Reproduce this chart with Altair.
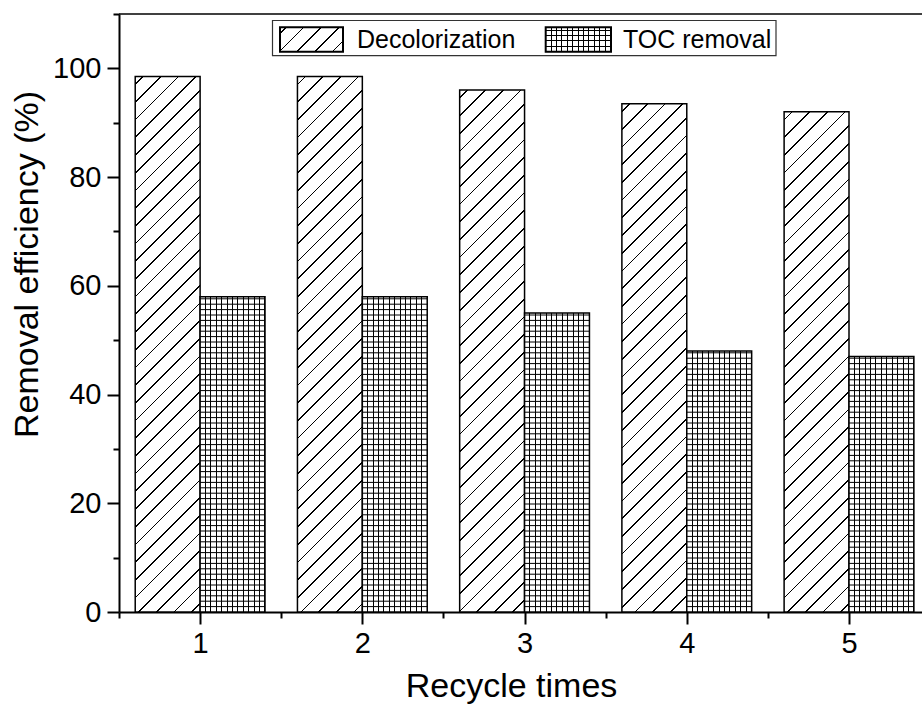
import altair as alt
import pandas as pd

# Recycling test results
recycle = [1, 2, 3, 4, 5]
decolorization = [98.5, 98.5, 96.0, 93.5, 92.0]
toc_removal = [58.0, 58.0, 55.0, 48.0, 47.0]
series = ["Decolorization", "TOC removal"]

# Plot geometry (pixels) and scale domains
W, H = 803, 598
X_MIN, X_MAX = 0.5, 5.45
Y_MAX = 110
BAR = 0.4  # bar width in x units
PX_X = W / (X_MAX - X_MIN)
PX_Y = H / Y_MAX
GRID_PX = 5.4  # cross-hatch pitch in pixels
GRID_STEP = GRID_PX / PX_Y  # same pitch in y units

FONT = "Liberation Sans"
INK = "#000000"
CLEAR = "rgba(0,0,0,0)"

df = pd.DataFrame({"recycle": recycle, "decol": decolorization, "toc": toc_removal})


def band_stops(positions, length, lw, on, off):
    """Hard-edged gradient stops: thin bands of colour `on` centred on positions."""
    stops = []
    for c in positions:
        a = max(0.0, (c - lw / 2) / length)
        b = min(1.0, (c + lw / 2) / length)
        if b <= 0 or a >= 1:
            continue
        stops += [
            {"offset": round(a, 5), "color": off},
            {"offset": round(a, 5), "color": on},
            {"offset": round(b, 5), "color": on},
            {"offset": round(b, 5), "color": off},
        ]
    return stops


def diagonal_fill(w, h, spacing=17.7, lw=1.7, phase=8.0):
    """'/' hatching at 45 degrees for a w x h pixel box (bounding-box gradient)."""
    L = w + h
    k = L / (w * w + h * h)
    pos = []
    c = phase
    while c < L + lw:
        pos.append(c)
        c += spacing
    return {
        "gradient": "linear",
        "x1": 0, "y1": 0, "x2": round(w * k, 6), "y2": round(h * k, 6),
        "stops": band_stops(pos, L, lw, INK, "#ffffff"),
    }


def vertical_lines_fill(w, spacing=GRID_PX, lw=1.0):
    pos = []
    c = spacing
    while c < w:
        pos.append(c)
        c += spacing
    return {
        "gradient": "linear", "x1": 0, "y1": 0, "x2": 1, "y2": 0,
        "stops": band_stops(pos, w, lw, INK, "#ffffff"),
    }


def horizontal_lines_fill(h, spacing=GRID_PX, lw=1.0):
    pos = []
    c = h - spacing
    while c > 0:
        pos.append(c)
        c -= spacing
    pos.sort()
    return {
        "gradient": "linear", "x1": 0, "y1": 0, "x2": 0, "y2": 1,
        "stops": band_stops(pos, h, lw, INK, CLEAR),
    }


major_y = "datum.value % 20 === 0"
major_x = "datum.value % 1 === 0"

x_scale = alt.Scale(domain=[X_MIN, X_MAX], nice=False, zero=False)
y_scale = alt.Scale(domain=[0, Y_MAX], nice=False)

x_axis = alt.Axis(
    values=[0.5, 1, 1.5, 2, 2.5, 3, 3.5, 4, 4.5, 5],
    labelExpr=f"{major_x} ? format(datum.value, 'd') : ''",
    tickSize={"condition": {"test": major_x, "value": 12}, "value": 6},
    tickWidth=2, tickColor=INK, domainWidth=2, domainColor=INK,
    labelFont=FONT, labelFontSize=29, labelColor=INK, labelPadding=5,
    labelOverlap=False, grid=False,
    title="Recycle times", titleFont=FONT, titleFontSize=34,
    titleFontWeight="normal", titleColor=INK,
    titleX=392, titleY=84, titleBaseline="alphabetic", titleAlign="center",
)
y_axis = alt.Axis(
    values=list(range(0, 111, 10)),
    labelExpr=f"{major_y} ? datum.label : ''",
    tickSize={"condition": {"test": major_y, "value": 12}, "value": 6},
    tickWidth=2, tickColor=INK, domainWidth=2, domainColor=INK,
    labelFont=FONT, labelFontSize=29, labelColor=INK, labelPadding=6,
    labelOverlap=False, grid=False,
    title="Removal efficiency (%)", titleFont=FONT, titleFontSize=34,
    titleFontWeight="normal", titleColor=INK, titleAngle=270,
    titleX=-82, titleY=250, titleBaseline="alphabetic", titleAlign="center",
)

base = alt.Chart(df).transform_calculate(
    left="datum.recycle - 0.4", mid="datum.recycle", right="datum.recycle + 0.4"
)
X_LEFT = alt.X("left:Q", scale=x_scale, axis=x_axis)
X_MID = alt.X("mid:Q", scale=x_scale, axis=x_axis)
Y_DECOL = alt.Y("decol:Q", scale=y_scale, axis=y_axis)
Y_TOC = alt.Y("toc:Q", scale=y_scale, axis=y_axis)

layers = []

# Decolorization bars: diagonal hatching, one layer per bar
for r, v in zip(recycle, decolorization):
    layers.append(
        base.transform_filter(alt.datum.recycle == r)
        .mark_rect(fill=diagonal_fill(BAR * PX_X, v * PX_Y), stroke=INK, strokeWidth=1.5)
        .encode(x=X_LEFT, x2="mid:Q", y=Y_DECOL, y2=alt.datum(0))
    )

# TOC removal bars: vertical lines on white ...
layers.append(
    base.mark_rect(fill=vertical_lines_fill(BAR * PX_X))
    .encode(x=X_MID, x2="right:Q", y=Y_TOC, y2=alt.datum(0))
)
# ... crossed by horizontal lines at a fixed pitch up to each bar's value ...
layers.append(
    base.transform_calculate(level=f"sequence(1, ceil(datum.toc / {GRID_STEP:.6f}))")
    .transform_flatten(["level"])
    .transform_calculate(ly=f"datum.level * {GRID_STEP:.6f}")
    .mark_rule(color=INK, strokeWidth=1)
    .encode(x=X_MID, x2="right:Q", y=alt.Y("ly:Q", scale=y_scale, axis=y_axis))
)
# ... and outlined
layers.append(
    base.mark_rect(fill=CLEAR, stroke=INK, strokeWidth=1.5)
    .encode(x=X_MID, x2="right:Q", y=Y_TOC, y2=alt.datum(0))
)

# Top frame line
layers.append(
    alt.Chart(pd.DataFrame({"k": [0]}))
    .mark_rule(color=INK, strokeWidth=1.5)
    .encode(x=alt.value(0), x2=alt.value(W), y=alt.value(0))
)

# Legend
leg = alt.Chart(pd.DataFrame({"label": series}))
first = leg.transform_filter(alt.datum.label == series[0])
second = leg.transform_filter(alt.datum.label == series[1])
layers.append(
    first.mark_rect(fill="#ffffff", stroke="#333333", strokeWidth=1.2)
    .encode(x=alt.value(153.5), x2=alt.value(657), y=alt.value(6.5), y2=alt.value(41.7))
)
layers.append(
    first.mark_rect(fill=diagonal_fill(63, 24.4, phase=6.0), stroke=INK, strokeWidth=2)
    .encode(x=alt.value(161), x2=alt.value(224), y=alt.value(13.3), y2=alt.value(37.7))
)
layers.append(
    second.mark_rect(fill=vertical_lines_fill(65.3))
    .encode(x=alt.value(426.7), x2=alt.value(492), y=alt.value(13.3), y2=alt.value(37.7))
)
layers.append(
    second.mark_rect(fill=horizontal_lines_fill(24.4), stroke=INK, strokeWidth=2)
    .encode(x=alt.value(426.7), x2=alt.value(492), y=alt.value(13.3), y2=alt.value(37.7))
)
legend_text = dict(font=FONT, fontSize=25, color=INK, align="left", baseline="alphabetic")
layers.append(
    first.mark_text(**legend_text).encode(text="label:N", x=alt.value(238), y=alt.value(34))
)
layers.append(
    second.mark_text(**legend_text).encode(text="label:N", x=alt.value(504), y=alt.value(34))
)

chart = alt.layer(*layers).properties(
    width=W,
    height=H,
    autosize=alt.AutoSizeParams(type="none"),
    padding={"left": 119, "top": 14, "right": 0, "bottom": 96},
    background="#ffffff",
).configure_view(stroke=None)

chart.save("out.html", embed_options={"renderer": "svg", "actions": False})
